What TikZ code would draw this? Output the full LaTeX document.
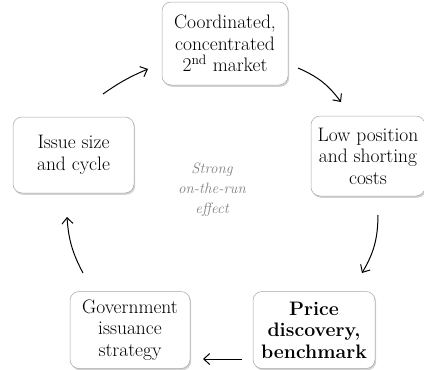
\documentclass[tikz,border=0pt]{standalone}
\usetikzlibrary{shadows,arrows.meta}
\begin{document}
\begin{tikzpicture}[x=1pt,y=-1pt,
  box/.style={draw=gray!70, line width=0.5pt, rounded corners=9pt, fill=white,
    align=center, inner sep=0pt, font=\rmfamily\fontsize{19.5}{21.5}\selectfont,
    drop shadow={shadow xshift=1.2pt, shadow yshift=-1.8pt, opacity=0.35, fill=gray}},
  cyc/.style={-{Straight Barb[length=6pt,width=11pt,line width=1pt]}, line width=1pt, black}]
\useasboundingbox (0,0) rectangle (424,370);
\node[box, minimum width=126pt, minimum height=83pt] (top) at (225,43.5) {Coordinated,\\concentrated\\2\textsuperscript{nd} market};
\node[box, minimum width=114pt, minimum height=80pt] (right) at (368,156) {Low position\\and shorting\\costs};
\node[box, minimum width=121pt, minimum height=76pt] (left) at (73.5,155) {Issue size\\and cycle};
\node[box, minimum width=120pt, minimum height=77pt] (bl) at (130,330) {Government\\issuance\\strategy};
\node[box, minimum width=122pt, minimum height=77pt, font=\rmfamily\fontsize{19.5}{21.5}\selectfont\bfseries] (br) at (314,330) {Price\\discovery,\\benchmark};
\node[align=center, text=gray, font=\rmfamily\fontsize{15}{20}\selectfont\itshape] (mid) at (212,190) {Strong\\on-the-run\\effect};
\coordinate (a1s) at (103,94);  \coordinate (a1e) at (148,69);
\coordinate (a2s) at (298,68);  \coordinate (a2e) at (341,102);
\coordinate (a3s) at (378,215); \coordinate (a3e) at (362,273);
\coordinate (a4s) at (242,359); \coordinate (a4e) at (203,359);
\coordinate (a5s) at (83,273);  \coordinate (a5e) at (67,217);
\draw[cyc] (a1s) to[bend left=6] (a1e);
\draw[cyc] (a2s) to[bend left=15] (a2e);
\draw[cyc] (a3s) to[bend left=15] (a3e);
\draw[cyc] (a4s) -- (a4e);
\draw[cyc] (a5s) to[bend left=12] (a5e);
\end{tikzpicture}
\end{document}
